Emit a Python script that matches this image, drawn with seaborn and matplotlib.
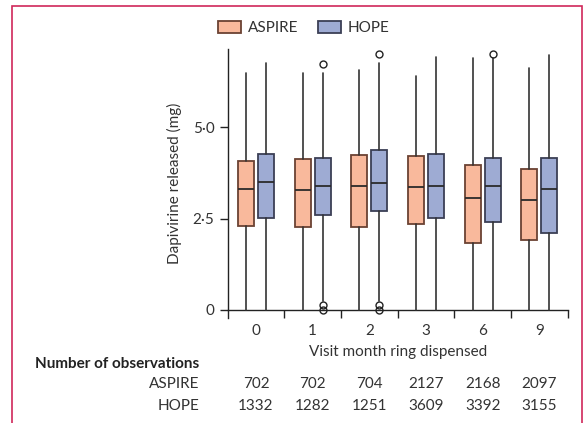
import matplotlib
matplotlib.use("Agg")
import matplotlib.pyplot as plt
import matplotlib.patches as mpatches
import seaborn as sns

# visit months and summary stats (mg)
months = ["0", "1", "2", "3", "6", "9"]
groups = ["ASPIRE", "HOPE"]

aspire_q1 = [2.30, 2.28, 2.28, 2.34, 1.84, 1.91]
aspire_med = [3.31, 3.27, 3.39, 3.37, 3.05, 3.02]
aspire_q3 = [4.08, 4.13, 4.23, 4.20, 3.97, 3.86]
aspire_lo = [0.0, 0.0, 0.0, 0.0, 0.0, 0.0]
aspire_hi = [6.47, 6.49, 6.56, 6.41, 6.88, 6.63]
aspire_fliers = [[], [], [], [], [], []]

hope_q1 = [2.51, 2.60, 2.70, 2.51, 2.40, 2.11]
hope_med = [3.50, 3.40, 3.48, 3.40, 3.40, 3.30]
hope_q3 = [4.27, 4.17, 4.37, 4.27, 4.17, 4.17]
hope_lo = [0.0, 0.25, 0.25, 0.0, 0.0, 0.0]
hope_hi = [6.77, 6.47, 6.77, 6.92, 6.89, 6.97]
hope_fliers = [[], [6.72, 0.14, 0.0], [7.01, 0.14, 0.0], [], [7.01], []]

n_aspire = [702, 702, 704, 2127, 2168, 2097]
n_hope = [1332, 1282, 1251, 3609, 3392, 3155]

colors = {"ASPIRE": ("#f9b99c", "#6b4233"), "HOPE": ("#9eabd3", "#3b3f55")}

sns.set_theme(style="ticks")
plt.rcParams["font.family"] = ["Lato", "DejaVu Sans"]
FS = 11

fig = plt.figure(figsize=(5.87, 4.23), dpi=100)
ax = fig.add_axes([0.3879, 0.2482, 0.5792, 0.636])


def stats(q1, med, q3, lo, hi, fl):
    return [dict(q1=a, med=b, q3=c, whislo=d, whishi=e, fliers=f)
            for a, b, c, d, e, f in zip(q1, med, q3, lo, hi, fl)]


series = {
    "ASPIRE": stats(aspire_q1, aspire_med, aspire_q3, aspire_lo, aspire_hi, aspire_fliers),
    "HOPE": stats(hope_q1, hope_med, hope_q3, hope_lo, hope_hi, hope_fliers),
}
offsets = {"ASPIRE": -0.176, "HOPE": 0.176}

for g in groups:
    fill, edge = colors[g]
    pos = [i + offsets[g] for i in range(len(months))]
    ax.bxp(series[g], positions=pos, widths=0.28, patch_artist=True,
           showcaps=False,
           boxprops=dict(facecolor=fill, edgecolor=edge, linewidth=1.3),
           medianprops=dict(color="#2b2b2b", linewidth=1.3),
           whiskerprops=dict(color="#333333", linewidth=1.2),
           flierprops=dict(marker="o", markerfacecolor="none",
                           markeredgecolor="#222222", markersize=5,
                           markeredgewidth=1.0),
           zorder=3)

ax.set_xlim(-0.5, 5.5)
ax.set_ylim(-0.22, 7.14)
ax.spines["top"].set_visible(False)
ax.spines["right"].set_visible(False)
ax.spines["bottom"].set_position(("data", 0))
for s in ["left", "bottom"]:
    ax.spines[s].set_color("#222222")
    ax.spines[s].set_linewidth(1.0)

ax.set_yticks([0, 2.5, 5.0])
ax.set_yticklabels(["0", "2·5", "5·0"])
ax.set_xticks([i + 0.5 for i in range(len(months))])
ax.set_xticklabels([])
ax.set_xticks(range(len(months)), minor=True)
ax.set_xticklabels(months, minor=True)
ax.tick_params(axis="x", which="major", length=6, width=1.0, color="#222222")
ax.tick_params(axis="x", which="minor", length=0, pad=10, labelsize=FS,
               labelcolor="#333333")
ax.tick_params(axis="y", length=6, width=1.0, color="#222222",
               labelsize=FS, labelcolor="#333333")

ax.set_ylabel("Dapivirine released (mg)", fontsize=FS, color="#333333",
              labelpad=8)
ax.text(2.5, -1.15, "Visit month ring dispensed", ha="center", va="center",
        fontsize=FS, color="#333333")

# legend
handles = [mpatches.Patch(facecolor=colors[g][0], edgecolor=colors[g][1],
                          linewidth=1.3, label=g) for g in groups]
fig.legend(handles=handles, loc="center", bbox_to_anchor=(0.517, 0.934),
           ncol=2, frameon=False, fontsize=FS, handlelength=1.5,
           handleheight=0.85, handletextpad=0.45, columnspacing=1.3,
           labelcolor="#333333")

# observation counts table
fig.text(199 / 587, 1 - 364 / 423, "Number of observations", ha="right",
         va="center", fontsize=FS, fontweight="bold", color="#222222")
for row, (name, counts) in enumerate([("ASPIRE", n_aspire), ("HOPE", n_hope)]):
    y = 1 - (384 + 22 * row) / 423
    fig.text(199 / 587, y, name, ha="right", va="center", fontsize=FS,
             color="#333333")
    for i, n in enumerate(counts):
        xf = ax.transData.transform((i, 0))[0] / fig.bbox.width
        fig.text(xf, y, str(n), ha="center", va="center", fontsize=FS,
                 color="#333333")

# journal-style frame
frame = mpatches.Rectangle((12.3 / 587, -0.05), (581.7 - 12.3) / 587,
                           1 - 6 / 423 + 0.05, transform=fig.transFigure,
                           fill=False, edgecolor="#d0285a", linewidth=1.2)
fig.patches.append(frame)

fig.savefig("out.png", dpi=100)
